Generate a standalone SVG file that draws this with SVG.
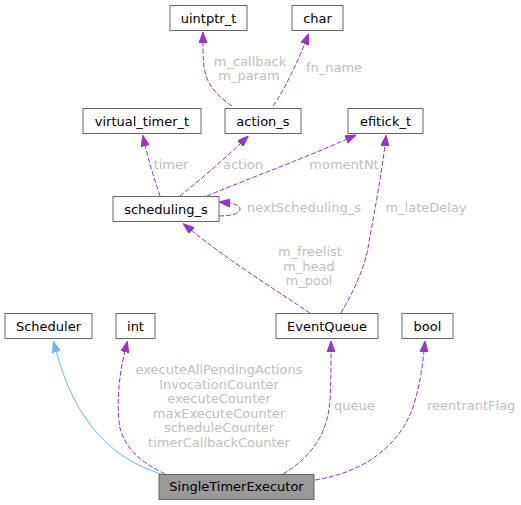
<svg xmlns="http://www.w3.org/2000/svg" width="521" height="505" viewBox="0 0 521 505">
<style>
.n rect{fill:#ffffff;stroke:#666666;stroke-width:1}
.n text{font-family:"DejaVu Sans",sans-serif;font-size:13px;fill:#000000;text-anchor:middle}
#SingleTimerExecutor rect{fill:#999999}
.e{fill:none;stroke:#9a32cd;stroke-width:1;stroke-dasharray:5,2}
.inh{fill:none;stroke:#63b8ff;stroke-width:1}
.l{font-family:"DejaVu Sans",sans-serif;font-size:13px;fill:#c0c0c0}
.m{text-anchor:middle}
</style>
<defs>
<marker id="ap" viewBox="0 0 11 8" refX="1" refY="4" markerWidth="11" markerHeight="8" markerUnits="userSpaceOnUse" orient="auto"><path d="M0,0 L11,4 L0,8 z" fill="#9a32cd" stroke="#9a32cd" stroke-width="1"/></marker>
<marker id="ab" viewBox="0 0 11 8" refX="1" refY="4" markerWidth="11" markerHeight="8" markerUnits="userSpaceOnUse" orient="auto"><path d="M0,0 L11,4 L0,8 z" fill="#63b8ff" stroke="#63b8ff" stroke-width="1"/></marker>
</defs>
<g id="connectors">
<path class="e" marker-end="url(#ap)" d="M232,106 C220,98 210,88 206,76 C203,66 203,54 203,42"/>
<text class="l m" x="250" y="65.5">m_callback</text>
<text class="l m" x="249" y="80">m_param</text>
<path class="e" marker-end="url(#ap)" d="M273,106 C283,92 296,66 305,43"/>
<text class="l m" x="334" y="72">fn_name</text>
<path class="e" marker-end="url(#ap)" d="M160,196 C155,181 149,162 145,145"/>
<text class="l m" x="171" y="168.5">timer</text>
<path class="e" marker-end="url(#ap)" d="M180,196 C195,184 220,163 241,143"/>
<text class="l m" x="243" y="168.5">action</text>
<path class="e" marker-end="url(#ap)" d="M207,196 C245,180 305,158 347,139"/>
<text class="l m" x="344" y="168.5">momentNt</text>
<path class="e" marker-end="url(#ap)" d="M219,216 C230,216 240,214 240,209 C240,206 237,204 229,203"/>
<text class="l" x="247" y="211.5">nextScheduling_s</text>
<path class="e" marker-end="url(#ap)" d="M341,313 C352,294 364,270 368,248 C374,214 381,178 385,145"/>
<text class="l m" x="426" y="211.5">m_lateDelay</text>
<path class="e" marker-end="url(#ap)" d="M310,313 C280,293 225,258 191,230"/>
<text class="l m" x="310" y="256">m_freelist</text>
<text class="l m" x="309" y="270.5">m_head</text>
<text class="l m" x="309" y="285">m_pool</text>
<path class="inh" marker-end="url(#ab)" d="M161,474 C110,458 75,420 56,351"/>
<path class="e" marker-end="url(#ap)" d="M165,474 C140,462 125,448 120,428 C116,405 119,375 125,351"/>
<text class="l m" x="219" y="374">executeAllPendingActions</text>
<text class="l m" x="219" y="388.5">InvocationCounter</text>
<text class="l m" x="219" y="403">executeCounter</text>
<text class="l m" x="219" y="417.5">maxExecuteCounter</text>
<text class="l m" x="219" y="432">scheduleCounter</text>
<text class="l m" x="219" y="446.5">timerCallbackCounter</text>
<path class="e" marker-end="url(#ap)" d="M283,474 C315,455 328,430 330,400 C331,380 331,365 331,351"/>
<text class="l" x="334" y="410">queue</text>
<path class="e" marker-end="url(#ap)" d="M315,480 C365,472 398,446 412,410 C419,390 422,370 424,351"/>
<text class="l" x="427" y="410">reentrantFlag</text>
</g>
<g id="uintptr_t" class="n"><rect x="170" y="5.5" width="77" height="25"/><text x="208.5" y="22.5">uintptr_t</text></g>
<g id="char" class="n"><rect x="292" y="5.5" width="51" height="25"/><text x="317.5" y="22.5">char</text></g>
<g id="virtual_timer_t" class="n"><rect x="83" y="108.5" width="118" height="25"/><text x="142" y="125.5">virtual_timer_t</text></g>
<g id="action_s" class="n"><rect x="225" y="108.5" width="76" height="25"/><text x="263" y="125.5">action_s</text></g>
<g id="efitick_t" class="n"><rect x="348" y="108.5" width="75" height="25"/><text x="385.5" y="125.5">efitick_t</text></g>
<g id="scheduling_s" class="n"><rect x="113" y="196.5" width="106" height="25"/><text x="166" y="213.5">scheduling_s</text></g>
<g id="Scheduler" class="n"><rect x="5" y="313.5" width="87" height="25"/><text x="48.5" y="330.5">Scheduler</text></g>
<g id="int" class="n"><rect x="116" y="313.5" width="39" height="25"/><text x="135.5" y="330.5">int</text></g>
<g id="EventQueue" class="n"><rect x="276" y="313.5" width="102" height="25"/><text x="327" y="330.5">EventQueue</text></g>
<g id="bool" class="n"><rect x="402" y="313.5" width="51" height="25"/><text x="427.5" y="330.5">bool</text></g>
<g id="SingleTimerExecutor" class="n"><rect x="159" y="474.5" width="155" height="25"/><text x="236.5" y="491">SingleTimerExecutor</text></g>
</svg>
